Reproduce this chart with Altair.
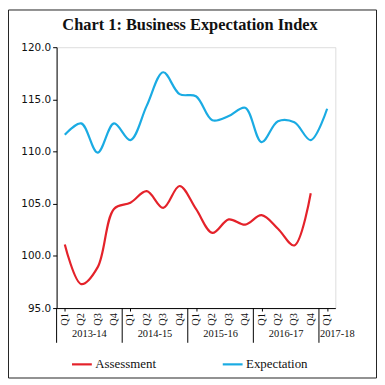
import altair as alt
import pandas as pd

quarters = ["Q1", "Q2", "Q3", "Q4", "Q1", "Q2", "Q3", "Q4", "Q1", "Q2", "Q3", "Q4",
            "Q1", "Q2", "Q3", "Q4", "Q1"]
years = ["2013-14", "2014-15", "2015-16", "2016-17", "2017-18"]
year_pos = [1.5, 5.5, 9.5, 13.5, 16.62]
separators = [-0.5, 3.5, 7.5, 11.5, 15.5]

assessment = [101.1, 97.3, 98.9, 104.5, 105.1, 106.2, 104.6, 106.7, 104.5, 102.2,
              103.5, 103.0, 103.9, 102.6, 101.0, 106.0, None]
expectation = [111.6, 112.7, 109.9, 112.7, 111.1, 114.4, 117.6, 115.5, 115.3, 113.0,
               113.4, 114.2, 110.9, 112.9, 112.8, 111.1, 114.1]

series = ["Assessment", "Expectation"]
colors = ["#E4222A", "#1AABE3"]

rows = []
for i, q in enumerate(quarters):
    if assessment[i] is not None:
        rows.append({"idx": i, "series": "Assessment", "value": assessment[i]})
    rows.append({"idx": i, "series": "Expectation", "value": expectation[i]})
df = pd.DataFrame(rows)

W, H = 281, 263
SERIF = "Liberation Serif"

xscale = alt.Scale(domain=[-0.5, len(quarters) - 0.5], nice=False, zero=False)
yscale = alt.Scale(domain=[95, 120], nice=False, zero=False)

lines = alt.Chart(df).mark_line(interpolate="catmull-rom", strokeWidth=2.2).encode(
    x=alt.X("idx:Q", scale=xscale,
            axis=alt.Axis(values=list(range(len(quarters))), labels=False,
                          tickSize=3, tickColor="#000", domainColor="#000",
                          grid=False, title=None)),
    y=alt.Y("value:Q", scale=yscale,
            axis=alt.Axis(values=[95, 100, 105, 110, 115, 120], format=".1f",
                          labelFont="DejaVu Sans", labelFontSize=10.5,
                          labelColor="#111", tickSize=4, tickColor="#000",
                          domainColor="#000", grid=False, title=None,
                          labelPadding=2)),
    color=alt.Color("series:N", scale=alt.Scale(domain=series, range=colors),
                    legend=alt.Legend(orient="none", legendX=14, legendY=308,
                                      direction="horizontal", title=None,
                                      symbolType="stroke", symbolSize=400,
                                      symbolStrokeWidth=2.2, labelFont=SERIF,
                                      labelFontSize=13, labelColor="#111",
                                      labelOffset=2, columnPadding=62)),
)

q_df = pd.DataFrame({"q": quarters, "idx": list(range(len(quarters)))})
q_text = alt.Chart(q_df).mark_text(font=SERIF, fontSize=10.5, color="#111",
                                   angle=270, align="right", baseline="middle").encode(
    x=alt.X("idx:Q", scale=xscale),
    y=alt.value(H + 5),
    text="q:N",
)

sep_df = pd.DataFrame({"pos": separators})
seps = alt.Chart(sep_df).mark_rule(color="#000", strokeWidth=1).encode(
    x=alt.X("pos:Q", scale=xscale),
    y=alt.value(H), y2=alt.value(H + 35),
)

year_df = pd.DataFrame({"year": years, "pos": year_pos})
year_text = alt.Chart(year_df).mark_text(font=SERIF, fontSize=10.5, color="#111",
                                         baseline="alphabetic").encode(
    x=alt.X("pos:Q", scale=xscale),
    y=alt.value(H + 29),
    text="year:N",
)

title = alt.Chart(pd.DataFrame({"t": ["Chart 1: Business Expectation Index"]})).mark_text(
    font=SERIF, fontSize=16.5, fontWeight="bold", color="#111", baseline="alphabetic"
).encode(x=alt.value(134.5), y=alt.value(-17), text="t:N")

frame = alt.Chart(pd.DataFrame({"a": [0]})).mark_rect(
    fill=None, stroke="#222", strokeWidth=1
).encode(x=alt.value(-48.5), x2=alt.value(322.5), y=alt.value(-37.5), y2=alt.value(333.5))

chart = alt.layer(frame, lines, q_text, seps, year_text, title).properties(
    width=W, height=H,
    padding={"left": 49, "top": 38, "right": 42, "bottom": 71},
    autosize=alt.AutoSizeParams(type="none"),
).configure_view(stroke=None).configure(background="white")

chart.save("out.html", embed_options={"renderer": "svg", "actions": False})
